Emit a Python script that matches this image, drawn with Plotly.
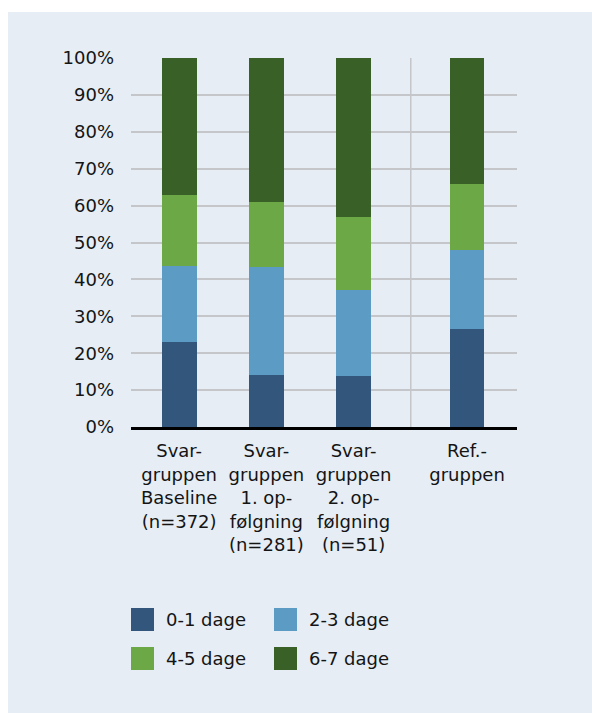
import plotly.graph_objects as go

# Grupper og deres placering på x-aksen (Ref.-gruppen står lidt til side)
groups = [
    "Svar-<br>gruppen<br>Baseline<br>(n=372)",
    "Svar-<br>gruppen<br>1. op-<br>følgning<br>(n=281)",
    "Svar-<br>gruppen<br>2. op-<br>følgning<br>(n=51)",
    "Ref.-<br>gruppen",
]
group_pos = [1, 2, 3, 4.3]

# Andel (%) fordelt på antal dage
series_names = ["0-1 dage", "2-3 dage", "4-5 dage", "6-7 dage"]
dage_0_1 = [23.0, 14.1, 13.7, 26.6]
dage_2_3 = [20.6, 29.2, 23.5, 21.4]
dage_4_5 = [19.3, 17.7, 19.6, 17.9]
dage_6_7 = [37.1, 39.0, 43.2, 34.1]
series_values = [dage_0_1, dage_2_3, dage_4_5, dage_6_7]

y_ticks = [0, 10, 20, 30, 40, 50, 60, 70, 80, 90, 100]

colors = ["#33577c", "#5b9bc4", "#6ca845", "#386027"]
panel = "#e6edf5"
grid = "#c4c6ca"
ink = "#141414"
font_family = "DejaVu Sans, sans-serif"

W, H = 592, 713
L, R, T, B = 131, 75, 58, 286
plot_w = W - L - R
plot_h = H - T - B

fig = go.Figure()
for name, vals, col in zip(series_names, series_values, colors):
    fig.add_trace(go.Bar(
        x=group_pos, y=vals, name=name,
        marker=dict(color=col, line=dict(width=0)),
        width=0.40, showlegend=False,
    ))


def px_x(p):
    return (p - L) / plot_w


def px_y(p):
    return (H - B - p) / plot_h


shapes = [
    # white frame around the light panel
    dict(type="rect", xref="paper", yref="paper",
         x0=px_x(0), x1=px_x(W), y0=px_y(0), y1=px_y(12),
         fillcolor="white", line=dict(width=0), layer="below"),
    dict(type="rect", xref="paper", yref="paper",
         x0=px_x(0), x1=px_x(8), y0=px_y(0), y1=px_y(H),
         fillcolor="white", line=dict(width=0), layer="below"),
    # divider between survey groups and reference group
    dict(type="line", xref="x", yref="paper",
         x0=3.655, x1=3.655, y0=0, y1=1,
         line=dict(color=grid, width=1.5), layer="below"),
]

annotations = []
# legend laid out as a 2x2 grid
legend_cells = [(131, 619.5), (274, 619.5), (131, 658.5), (274, 658.5)]
sw = 23
for name, col, (lx, ly) in zip(series_names, colors, legend_cells):
    shapes.append(dict(
        type="rect", xref="paper", yref="paper",
        x0=px_x(lx), x1=px_x(lx + sw),
        y0=px_y(ly + sw / 2), y1=px_y(ly - sw / 2),
        fillcolor=col, line=dict(width=0),
    ))
    annotations.append(dict(
        xref="paper", yref="paper", x=px_x(lx + sw + 10), y=px_y(ly),
        text=name, showarrow=False, xanchor="left", yanchor="middle",
        font=dict(size=18, color=ink, family=font_family),
    ))

fig.update_layout(
    width=W, height=H,
    margin=dict(l=L, r=R, t=T, b=B, pad=0),
    paper_bgcolor=panel, plot_bgcolor=panel,
    barmode="stack", bargap=0,
    font=dict(family=font_family, size=18, color=ink),
    shapes=shapes, annotations=annotations,
    xaxis=dict(
        range=[0.448, 4.873],
        tickmode="array", tickvals=group_pos, ticktext=groups,
        showgrid=False, zeroline=False,
        showline=True, linecolor="black", linewidth=2.5,
        ticks="", ticklabelstandoff=6,
        tickfont=dict(size=18, color=ink),
    ),
    yaxis=dict(
        range=[0, 100], tickmode="array", tickvals=y_ticks,
        ticktext=[f"{v}%" for v in y_ticks],
        showgrid=True, gridcolor=grid, gridwidth=1.5,
        zeroline=False, showline=False, ticks="",
        ticklabelstandoff=16,
        tickfont=dict(size=18, color=ink),
    ),
)

fig.write_html("out.html")
